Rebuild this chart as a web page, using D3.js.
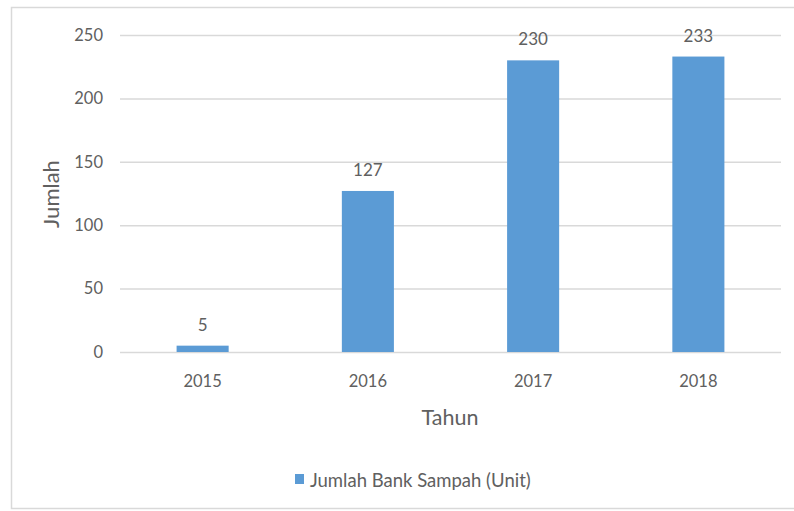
<!DOCTYPE html>
<html>
<head>
<meta charset="utf-8">
<script src="https://cdn.jsdelivr.net/npm/d3@7"></script>
<style>
  html, body { margin: 0; padding: 0; background: #fff; }
  svg { display: block; }
  text { font-family: Lato, "Open Sans", sans-serif; fill: #606060; }
</style>
</head>
<body>
<svg id="chart" width="794" height="511"></svg>
<script>
// Jumlah bank sampah per tahun
const years = ["2015", "2016", "2017", "2018"];
const counts = [5, 127, 230, 233];
const yTicks = [0, 50, 100, 150, 200, 250];
const seriesName = "Jumlah Bank Sampah (Unit)";
const xTitle = "Tahun";
const yTitle = "Jumlah";

const svg = d3.select("#chart");
const W = 794, H = 511;
const plot = { left: 120, right: 781, top: 35, bottom: 352 };

// outer chart frame
svg.append("rect")
  .attr("x", 11.5).attr("y", 7.5)
  .attr("width", W + 10).attr("height", 501)
  .attr("fill", "#fff")
  .attr("stroke", "#d9d9d9").attr("stroke-width", 1.5);

const x = d3.scaleBand()
  .domain(years)
  .range([plot.left, plot.right])
  .paddingInner(0.685)
  .paddingOuter(0.3425);

const y = d3.scaleLinear()
  .domain([0, 250])
  .range([plot.bottom, plot.top]);

// gridlines and value axis labels
const yAxis = d3.axisLeft(y)
  .tickValues(yTicks)
  .tickSize(-(plot.right - plot.left))
  .tickPadding(17)
  .tickFormat(d3.format("d"));

const gy = svg.append("g")
  .attr("transform", `translate(${plot.left},0)`)
  .call(yAxis);
gy.select(".domain").remove();
gy.selectAll(".tick line").attr("stroke", "#d9d9d9").attr("stroke-width", 1.5);
gy.selectAll(".tick text")
  .attr("font-size", 16.5)
  .attr("fill", "#606060")
  .style("font-family", "Lato, sans-serif");

// category axis
const xAxis = d3.axisBottom(x).tickSize(0).tickPadding(23);
const gx = svg.append("g")
  .attr("transform", `translate(0,${plot.bottom})`)
  .call(xAxis);
gx.select(".domain").remove();
gx.selectAll(".tick text")
  .attr("font-size", 16.5)
  .attr("fill", "#606060")
  .style("font-family", "Lato, sans-serif");

// bars
svg.append("g").selectAll("rect")
  .data(years.map((yr, i) => ({ yr, v: counts[i] })))
  .join("rect")
  .attr("x", d => x(d.yr))
  .attr("y", d => y(d.v))
  .attr("width", x.bandwidth())
  .attr("height", d => y(0) - y(d.v))
  .attr("fill", "#5b9bd5");

// value labels
svg.append("g").selectAll("text")
  .data(years.map((yr, i) => ({ yr, v: counts[i] })))
  .join("text")
  .attr("x", d => x(d.yr) + x.bandwidth() / 2)
  .attr("y", d => y(d.v) - 15)
  .attr("text-anchor", "middle")
  .attr("font-size", 17)
  .text(d => d.v);

// axis titles
svg.append("text")
  .attr("x", 450)
  .attr("y", 425)
  .attr("text-anchor", "middle")
  .attr("font-size", 21.5)
  .text(xTitle);

svg.append("text")
  .attr("transform", `translate(59,194) rotate(-90)`)
  .attr("text-anchor", "middle")
  .attr("font-size", 22)
  .text(yTitle);

// legend
const legend = svg.append("g");
legend.append("rect")
  .attr("x", 295).attr("y", 474)
  .attr("width", 9).attr("height", 10)
  .attr("fill", "#5b9bd5");
legend.append("text")
  .attr("x", 310).attr("y", 487)
  .attr("font-size", 18.5)
  .text(seriesName);
</script>
</body>
</html>
